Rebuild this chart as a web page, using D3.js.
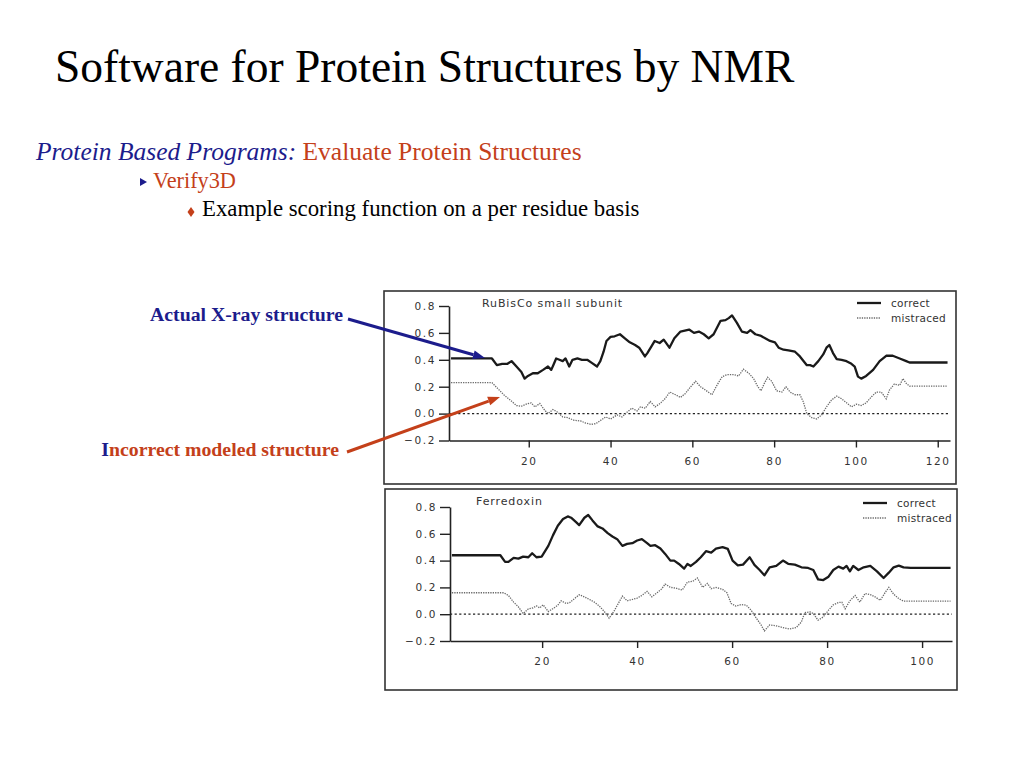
<!DOCTYPE html>
<html>
<head>
<meta charset="utf-8">
<script src="https://cdn.jsdelivr.net/npm/d3@7/dist/d3.min.js"></script>
<style>
  body { margin: 0; background: #fff; }
  svg { display: block; }
</style>
</head>
<body>
<script>
// values, [residue, 3D-1D score]
const rubiscoCorrect = [
  [1,0.41],[11,0.41],[12.2,0.36],[13.5,0.37],[14.8,0.37],[15.8,0.39],[17,0.35],[18.2,0.31],[19,0.26],
  [19.8,0.28],[21,0.30],[22.2,0.30],[23.5,0.325],[24.7,0.35],[25.5,0.325],[26,0.36],[26.7,0.41],
  [27.5,0.40],[28.3,0.39],[29,0.41],[29.9,0.35],[30.7,0.40],[31.9,0.41],[33,0.40],[34.3,0.40],
  [35.5,0.375],[36.7,0.35],[37.5,0.39],[38.3,0.46],[39,0.54],[40,0.57],[41,0.575],[42.3,0.59],
  [43.5,0.56],[44.7,0.53],[46,0.51],[47,0.49],[48.4,0.425],[49,0.45],[50,0.50],[50.8,0.54],
  [52,0.525],[53,0.55],[54.4,0.49],[55.6,0.56],[57.1,0.61],[59.2,0.625],[60.4,0.60],[61.6,0.61],
  [62.8,0.59],[64,0.56],[65.2,0.59],[66.9,0.69],[68.1,0.695],[68.9,0.71],[69.7,0.73],[70.9,0.675],
  [72.1,0.61],[73.4,0.60],[74.2,0.62],[75.4,0.59],[76.6,0.58],[77.8,0.56],[79,0.54],[80.2,0.53],
  [81.1,0.49],[82.3,0.475],[83.5,0.47],[85.1,0.46],[86.3,0.425],[88,0.36],[88.8,0.36],[89.6,0.35],
  [90.8,0.39],[92,0.44],[92.8,0.49],[93.5,0.51],[94.4,0.45],[95.3,0.405],[96.5,0.40],[97.7,0.39],
  [98.9,0.37],[99.7,0.35],[100.5,0.275],[101.3,0.26],[102.5,0.28],[104.2,0.325],[105.8,0.39],
  [107.4,0.43],[109,0.43],[110.7,0.41],[112.3,0.39],[113.1,0.38],[122.4,0.38]
];
const rubiscoMistraced = [
  [1,0.23],[11,0.23],[12.3,0.19],[13.9,0.14],[15.5,0.10],[17,0.06],[18.2,0.055],[19.8,0.075],
  [20.6,0.08],[21.5,0.05],[22.7,0.075],[23.9,0.025],[24.7,0.0],[25.9,0.03],[27.1,0.01],[28.3,-0.025],
  [29.5,-0.03],[31.1,-0.05],[32.7,-0.055],[33.9,-0.07],[35.2,-0.08],[36.4,-0.075],[37.6,-0.05],
  [38.8,-0.025],[40,-0.04],[41.6,-0.01],[42.8,-0.025],[44,0.01],[45.2,0.04],[46.5,0.02],[47.3,0.05],
  [48.5,0.04],[49.7,0.09],[50.9,0.05],[52.1,0.075],[53.3,0.11],[54.5,0.16],[55.9,0.14],[57.1,0.12],
  [58.3,0.15],[59.6,0.20],[60.8,0.24],[62,0.20],[63.2,0.175],[64.8,0.14],[66,0.21],[67.3,0.275],
  [68.5,0.29],[70.1,0.29],[71.3,0.28],[72.5,0.33],[73.8,0.30],[75,0.26],[76,0.20],[76.8,0.17],
  [77.6,0.225],[78.4,0.27],[79.4,0.24],[80.6,0.17],[81.9,0.16],[82.9,0.20],[83.9,0.16],[85.1,0.14],
  [86.3,0.14],[87.1,0.09],[88,0.0],[89.2,-0.03],[90.4,-0.04],[91.6,-0.01],[92.8,0.05],[94,0.10],
  [95.3,0.13],[96.5,0.11],[97.7,0.08],[98.9,0.05],[100.1,0.07],[101.3,0.06],[102.5,0.08],
  [103.8,0.125],[105,0.16],[106.2,0.16],[107.4,0.11],[108.2,0.175],[109.4,0.22],[110.7,0.21],
  [111.5,0.26],[112.3,0.225],[113.1,0.205],[122.4,0.205]
];
const ferredoxinCorrect = [
  [1,0.44],[11.2,0.44],[12.2,0.39],[12.9,0.39],[14,0.42],[15,0.415],[16,0.43],[17.1,0.425],
  [17.9,0.455],[18.8,0.425],[19.9,0.43],[21.3,0.51],[22.3,0.59],[23.3,0.66],[24.4,0.71],[25.4,0.73],
  [26.1,0.72],[27.2,0.685],[27.8,0.665],[28.9,0.72],[29.7,0.74],[30.6,0.70],[31.7,0.655],[32.7,0.64],
  [33.8,0.605],[34.8,0.58],[35.8,0.56],[36.9,0.51],[37.9,0.525],[39,0.53],[40,0.55],[41,0.56],
  [42.1,0.53],[42.8,0.51],[43.8,0.515],[44.9,0.49],[45.9,0.45],[47,0.40],[47.8,0.40],[48.8,0.375],
  [49.9,0.34],[50.6,0.375],[51.3,0.36],[52.4,0.39],[53.4,0.425],[54.5,0.47],[55.6,0.46],[56.6,0.49],
  [58,0.50],[59.1,0.487],[60.1,0.40],[61.2,0.365],[62.3,0.37],[63.7,0.425],[64.7,0.368],[65.8,0.33],
  [66.8,0.29],[67.9,0.35],[69.3,0.36],[70.7,0.40],[71.8,0.376],[73.2,0.37],[74.6,0.35],[76,0.345],
  [77.1,0.33],[78.1,0.26],[79.2,0.255],[80.3,0.28],[81.3,0.33],[82.4,0.355],[83.4,0.34],[84.1,0.36],
  [84.8,0.32],[85.5,0.36],[86.6,0.33],[87.7,0.35],[89.1,0.36],[90.5,0.32],[91.9,0.27],[93,0.31],
  [94,0.35],[95.1,0.363],[96.1,0.35],[97.6,0.345],[106,0.345]
];
const ferredoxinMistraced = [
  [1,0.16],[11.9,0.16],[12.9,0.14],[14,0.09],[15,0.055],[16,0.005],[17.1,0.04],[18.1,0.047],
  [18.8,0.062],[19.5,0.047],[20.2,0.07],[21.3,0.02],[22.3,0.042],[23.3,0.067],[24,0.10],[25.1,0.08],
  [25.8,0.087],[26.8,0.116],[27.8,0.145],[28.9,0.129],[29.9,0.111],[31,0.09],[32,0.062],[33.1,0.02],
  [34.1,-0.03],[35.1,0.02],[35.8,0.065],[36.9,0.135],[37.9,0.10],[39,0.11],[40,0.12],[41,0.14],
  [42.1,0.17],[43.1,0.13],[44.2,0.16],[45.2,0.19],[45.9,0.225],[47,0.20],[48.1,0.195],[49.5,0.18],
  [50.6,0.24],[51.7,0.245],[52.7,0.27],[53.8,0.20],[54.8,0.23],[55.6,0.19],[56.6,0.20],[58,0.185],
  [58.9,0.16],[59.8,0.08],[60.8,0.06],[61.9,0.072],[63,0.067],[64,0.03],[65.1,-0.03],[66.1,-0.08],
  [66.8,-0.125],[67.9,-0.08],[69.3,-0.087],[70.7,-0.10],[72.1,-0.11],[73.5,-0.10],[74.6,-0.057],
  [75.3,0.012],[76.4,0.017],[77.1,0.005],[78.1,-0.045],[79.2,-0.02],[80.3,0.03],[81.3,0.07],
  [82.4,0.087],[83.1,0.09],[83.8,0.04],[84.8,0.10],[85.9,0.14],[86.9,0.09],[88,0.155],[89.1,0.146],
  [90.1,0.129],[91.2,0.104],[92.3,0.166],[93,0.20],[94,0.15],[95.1,0.116],[96.1,0.097],[97.5,0.097],
  [106,0.097]
];

const scoreTicks = [-0.2, 0.0, 0.2, 0.4, 0.6, 0.8];
const rubiscoResidueTicks = [20, 40, 60, 80, 100, 120];
const ferredoxinResidueTicks = [20, 40, 60, 80, 100];
const legendLabels = ['correct', 'mistraced'];
const panelTitles = ['RuBisCo small subunit', 'Ferredoxin'];

const navy = '#1c1c8c', rust = '#c4401a';
const serif = '"Liberation Serif", "Times New Roman", serif';
const sans = '"DejaVu Sans", "Liberation Sans", sans-serif';

const svg = d3.select('body').append('svg')
    .attr('width', 1024)
    .attr('height', 768);

// slide text
svg.append('text')
    .attr('x', 55).attr('y', 82)
    .style('font-family', serif).style('font-size', '45.5px')
    .attr('fill', '#000')
    .text('Software for Protein Structures by NMR');

const sub = svg.append('text')
    .attr('x', 36).attr('y', 160)
    .style('font-family', serif).style('font-size', '25.5px');
sub.append('tspan').attr('fill', navy).style('font-style', 'italic').text('Protein Based Programs:');
sub.append('tspan').attr('fill', rust).text(' Evaluate Protein Structures');

svg.append('path')
    .attr('d', 'M140,178L147,182L140,186Z')
    .attr('fill', navy);
svg.append('text')
    .attr('x', 153).attr('y', 188)
    .style('font-family', serif).style('font-size', '22.3px')
    .attr('fill', rust)
    .text('Verify3D');

svg.append('path')
    .attr('d', 'M191,207L194.5,212L191,217L187.5,212Z')
    .attr('fill', rust);
svg.append('text')
    .attr('x', 202).attr('y', 216)
    .style('font-family', serif).style('font-size', '22.8px')
    .attr('fill', '#000')
    .text('Example scoring function on a per residue basis');

// the two stacked profile panels
drawPanel({
    frame: [384, 291, 956, 484],
    x: d3.scaleLinear().domain([0.5, 123]).range([449, 950]),
    y: d3.scaleLinear().domain([-0.2, 0.8]).range([440.5, 306]),
    xTicks: rubiscoResidueTicks,
    title: panelTitles[0], titleAt: [482, 307],
    legendAt: [857, 303],
    correct: rubiscoCorrect,
    mistraced: rubiscoMistraced
});

drawPanel({
    frame: [385, 489, 957, 690],
    x: d3.scaleLinear().domain([0.6, 106.3]).range([450, 952]),
    y: d3.scaleLinear().domain([-0.2, 0.8]).range([641, 507]),
    xTicks: ferredoxinResidueTicks,
    title: panelTitles[1], titleAt: [476, 505],
    legendAt: [863, 503],
    correct: ferredoxinCorrect,
    mistraced: ferredoxinMistraced
});

function drawPanel(o) {
    const { x, y } = o;
    const g = svg.append('g');
    const [fx0, fy0, fx1, fy1] = o.frame;

    g.append('rect')
        .attr('x', fx0).attr('y', fy0)
        .attr('width', fx1 - fx0).attr('height', fy1 - fy0)
        .attr('fill', 'none')
        .attr('stroke', '#333')
        .attr('stroke-width', 1.6);

    const yAxis = g.append('g')
        .attr('transform', `translate(${x.range()[0]},0)`)
        .call(d3.axisLeft(y).tickValues(scoreTicks).tickFormat(d3.format('.1f')).tickSize(10).tickSizeOuter(0))
        .call(styleAxis);
    yAxis.selectAll('text').attr('x', -13);

    g.append('g')
        .attr('transform', `translate(0,${y(-0.2)})`)
        .call(d3.axisBottom(x).tickValues(o.xTicks).tickSize(7).tickSizeOuter(0))
        .call(styleAxis)
        .selectAll('text').attr('y', 17);

    // zero reference
    g.append('line')
        .attr('x1', x.range()[0]).attr('x2', x.range()[1])
        .attr('y1', y(0)).attr('y2', y(0))
        .attr('stroke', '#222')
        .attr('stroke-width', 1.3)
        .attr('stroke-dasharray', '2.2 2.4');

    const line = d3.line()
        .x(d => x(d[0]))
        .y(d => y(d[1]));

    g.append('path')
        .datum(o.mistraced)
        .attr('d', line)
        .attr('fill', 'none')
        .attr('stroke', '#6a6a6a')
        .attr('stroke-width', 1.3)
        .attr('stroke-dasharray', '1.3 1.1');

    g.append('path')
        .datum(o.correct)
        .attr('d', line)
        .attr('fill', 'none')
        .attr('stroke', '#1a1a1a')
        .attr('stroke-width', 2.3)
        .attr('stroke-linejoin', 'round');

    g.append('text')
        .attr('x', o.titleAt[0]).attr('y', o.titleAt[1])
        .style('font-family', sans).style('font-size', '11px')
        .style('letter-spacing', '0.9px')
        .attr('fill', '#333')
        .text(o.title);

    // legend
    const [lx, ly] = o.legendAt;
    legendLabels.forEach((label, i) => {
        const yy = ly + i * 15;
        g.append('line')
            .attr('x1', lx).attr('x2', lx + 24)
            .attr('y1', yy).attr('y2', yy)
            .attr('stroke', i === 0 ? '#1a1a1a' : '#6a6a6a')
            .attr('stroke-width', i === 0 ? 2.3 : 1.3)
            .attr('stroke-dasharray', i === 0 ? null : '1.3 1.1');
        g.append('text')
            .attr('x', lx + 34).attr('y', yy + 4)
            .style('font-family', sans).style('font-size', '10.5px')
            .style('letter-spacing', '0.3px')
            .attr('fill', '#333')
            .text(label);
    });
}

function styleAxis(sel) {
    sel.select('.domain').attr('stroke', '#222').attr('stroke-width', 1.6);
    sel.selectAll('.tick line').attr('stroke', '#222').attr('stroke-width', 1.4);
    sel.selectAll('.tick text')
        .style('font-family', sans)
        .style('font-size', '10.5px')
        .style('letter-spacing', '1.6px')
        .attr('fill', '#333');
}

// callout arrows
drawArrow(348, 319, 485, 358, navy);
drawArrow(347, 452, 500, 397, rust);

function drawArrow(x1, y1, x2, y2, color) {
    const a = Math.atan2(y2 - y1, x2 - x1);
    const len = 12, half = 4.5;
    const bx = x2 - len * Math.cos(a), by = y2 - len * Math.sin(a);
    svg.append('line')
        .attr('x1', x1).attr('y1', y1)
        .attr('x2', bx).attr('y2', by)
        .attr('stroke', color)
        .attr('stroke-width', 3);
    svg.append('path')
        .attr('d', d3.line()([
            [x2, y2],
            [bx + half * Math.sin(a), by - half * Math.cos(a)],
            [bx - half * Math.sin(a), by + half * Math.cos(a)]
        ]) + 'Z')
        .attr('fill', color);
}

svg.append('text')
    .attr('x', 343).attr('y', 321)
    .attr('text-anchor', 'end')
    .style('font-family', serif).style('font-size', '19.8px').style('font-weight', 'bold')
    .attr('fill', navy)
    .text('Actual X-ray structure');

const wrong = svg.append('text')
    .attr('x', 339).attr('y', 456)
    .attr('text-anchor', 'end')
    .style('font-family', serif).style('font-size', '19.8px').style('font-weight', 'bold');
wrong.append('tspan').attr('fill', navy).text('I');
wrong.append('tspan').attr('fill', rust).text('ncorrect modeled structure');
</script>
</body>
</html>
